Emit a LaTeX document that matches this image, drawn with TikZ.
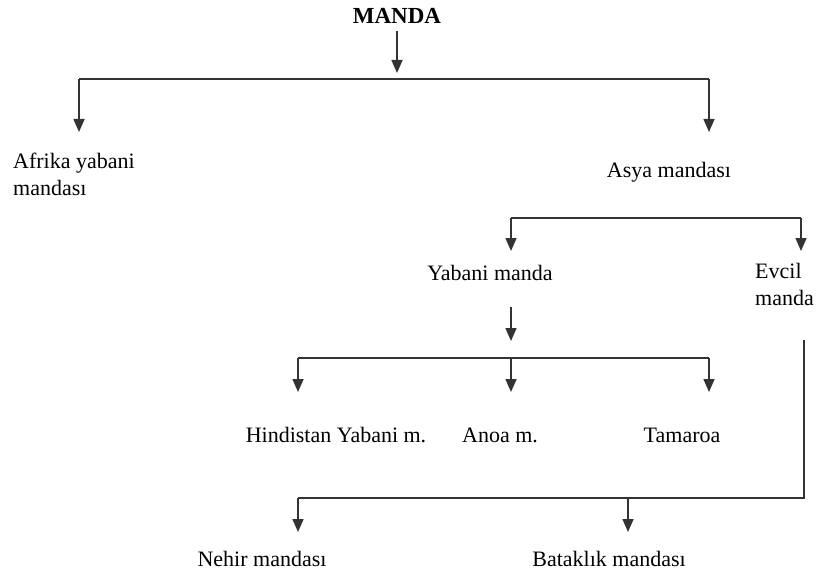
\documentclass[tikz,border=0pt]{standalone}
\usepackage{fontspec}
\setmainfont{Liberation Serif}
\usetikzlibrary{arrows.meta}
\begin{document}
\begin{tikzpicture}[x=1pt,y=-1pt,
  lbl/.style={inner sep=0pt, font=\fontsize{22}{27}\selectfont, text height=15pt, text depth=5pt},
  mlbl/.style={inner sep=0pt, font=\fontsize{22}{27}\selectfont, align=left},
  ln/.style={line width=1.6pt, draw=black!80},
  arr/.style={ln, -{Triangle[width=11pt,length=13pt]}}]
\useasboundingbox[fill=white] (0,0) rectangle (824,572);
% nodes
\node[lbl, font=\fontsize{23}{27}\selectfont\bfseries] (manda) at (397,19) {MANDA};
\node[mlbl, anchor=north west] (afrika) at (13,153) {Afrika yabani\\mandası};
\node[lbl] (asya) at (669,173) {Asya mandası};
\node[lbl] (yabani) at (490,275) {Yabani manda};
\node[mlbl, anchor=north west] (evcil) at (755,263) {Evcil\\manda};
\node[lbl] (hind) at (336,437) {Hindistan Yabani m.};
\node[lbl] (anoa) at (500,437) {Anoa m.};
\node[lbl] (tama) at (682,437) {Tamaroa};
\node[lbl] (nehir) at (262,561) {Nehir mandası};
\node[lbl] (batak) at (609,561) {Bataklık mandası};
% junction coordinates
\coordinate (m0) at (397,31);
\coordinate (m1) at (397,73);
\coordinate (tl) at (79,79);
\coordinate (tr) at (709,79);
\coordinate (afA) at (79,132);
\coordinate (asA) at (709,132);
\coordinate (al) at (511,218);
\coordinate (ar) at (801,218);
\coordinate (yaA) at (511,251);
\coordinate (evA) at (801,251);
\coordinate (y0) at (511,307);
\coordinate (y1) at (511,341);
\coordinate (hl) at (298,358);
\coordinate (hm) at (511,358);
\coordinate (hr) at (709,358);
\coordinate (hiA) at (298,392);
\coordinate (anA) at (511,392);
\coordinate (taA) at (709,392);
\coordinate (e0) at (804,340);
\coordinate (er) at (804,498);
\coordinate (nl) at (298,498);
\coordinate (nb) at (628,498);
\coordinate (neA) at (298,532);
\coordinate (baA) at (628,532);
% connectors
\draw[arr] (m0) -- (m1);
\draw[ln] (tl) -- (tr);
\draw[arr] (tl) -- (afA);
\draw[arr] (tr) -- (asA);
\draw[ln] (al) -- (ar);
\draw[arr] (al) -- (yaA);
\draw[arr] (ar) -- (evA);
\draw[arr] (y0) -- (y1);
\draw[ln] (hl) -- (hr);
\draw[arr] (hl) -- (hiA);
\draw[arr] (hm) -- (anA);
\draw[arr] (hr) -- (taA);
\draw[ln] (e0) -- (er) -- (nl);
\draw[arr] (nl) -- (neA);
\draw[arr] (nb) -- (baA);
\end{tikzpicture}
\end{document}
